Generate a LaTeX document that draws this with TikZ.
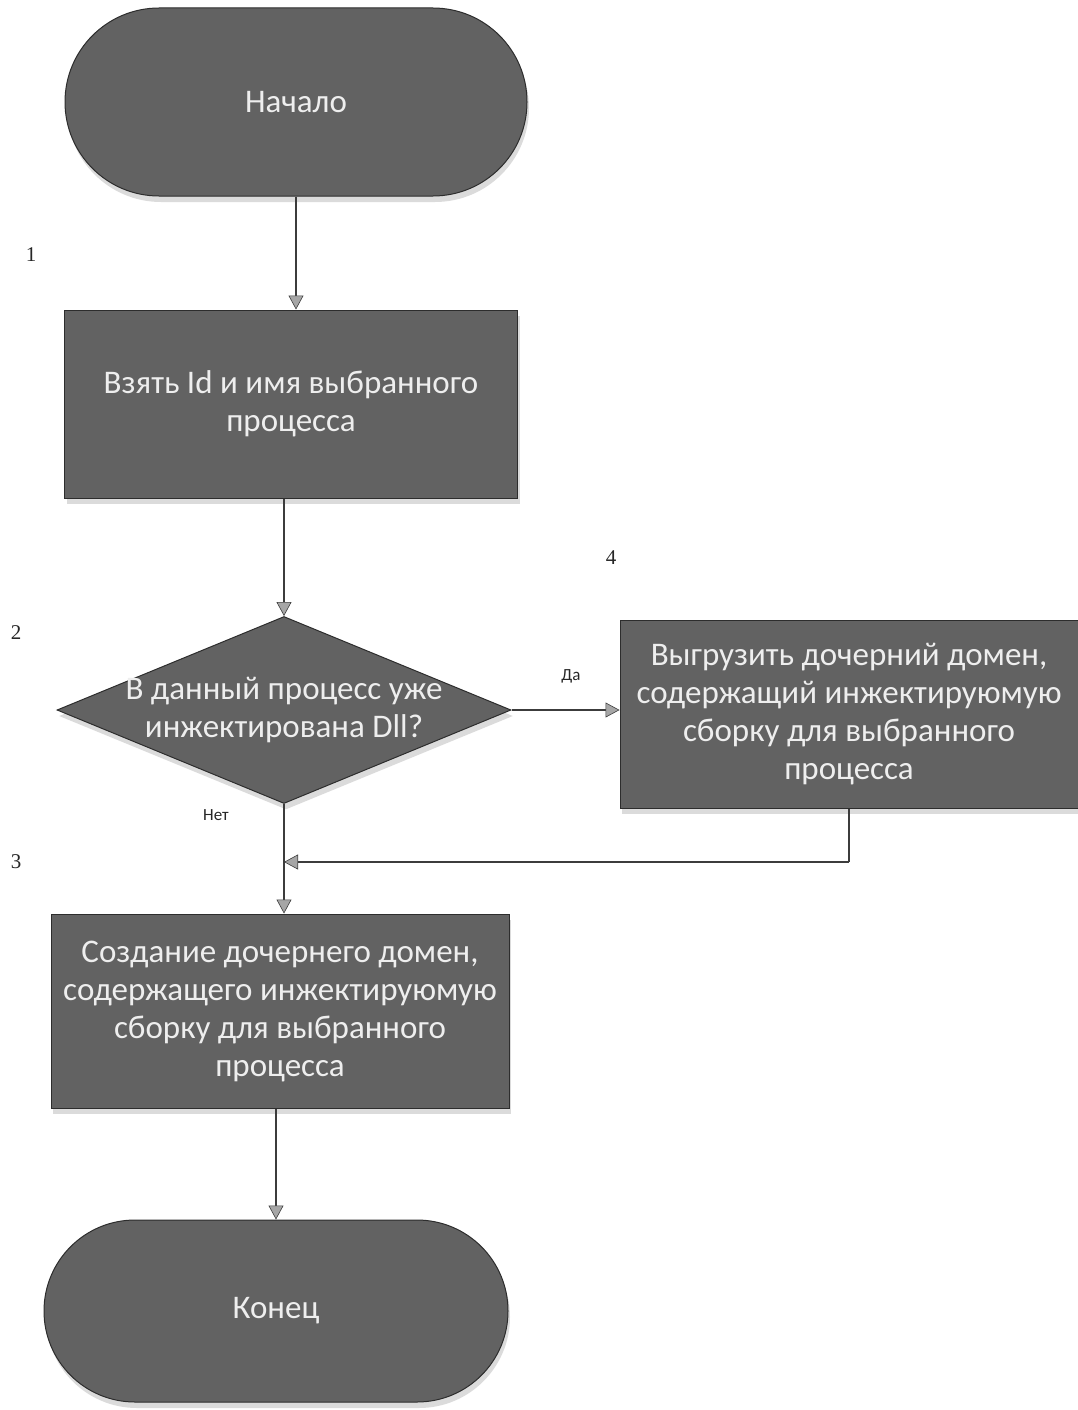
\documentclass[tikz,border=0pt]{standalone}
\usepackage{fontspec}
\setmainfont{Carlito}
\newfontfamily\numfont{Liberation Serif}
\usetikzlibrary{shapes.misc,shapes.geometric,arrows.meta,shadows}
\definecolor{boxfill}{RGB}{98,98,98}
\definecolor{boxline}{RGB}{45,45,45}
\definecolor{boxtext}{RGB}{238,238,238}
\definecolor{wire}{RGB}{60,60,60}
\begin{document}
\begin{tikzpicture}[x=1pt,y=-1pt,
  base/.style={fill=boxfill,draw=boxline,line width=1pt,text=boxtext,
    font=\fontsize{33}{38}\selectfont,align=center,inner sep=0pt,
    drop shadow={shadow xshift=2pt,shadow yshift=-6pt,fill=gray!35,opacity=0.8}},
  term/.style={base,rounded rectangle,minimum width=462pt,minimum height=188pt},
  proc/.style={base,rectangle},
  decide/.style={base,diamond,minimum width=454pt,minimum height=187pt},
  inbox/.style={text=boxtext,font=\fontsize{33}{38}\selectfont,align=center},
  flow/.style={draw=wire,line width=1.6pt,
    -{Triangle[width=15pt,length=14pt,fill=gray!70,color=wire,line width=0.6pt]}},
  plain/.style={draw=wire,line width=1.6pt},
  tag/.style={font=\fontsize{17}{20}\selectfont,text=black!85},
  num/.style={font=\numfont\fontsize{21}{24}\selectfont,text=black!85}]
\useasboundingbox (0,0) rectangle (1078,1410);

% terminators, steps and decision
\node[term] (start) at (296,102) {Начало};
\node[proc,minimum width=453pt,minimum height=188pt] (take) at (291,404)
  {Взять Id и имя выбранного\\процесса};
\node[decide] (check) at (284,710) {};
\node[inbox] (checktext) at (check.center) {В данный процесс уже\\инжектирована Dll?};
\node[proc,minimum width=458pt,minimum height=188pt] (unload) at (849,714)
  {Выгрузить дочерний домен,\\содержащий инжектируюмую\\сборку для выбранного\\процесса};
\node[proc,minimum width=458pt,minimum height=194pt] (create) at (280,1011)
  {Создание дочернего домен,\\содержащего инжектируюмую\\сборку для выбранного\\процесса};
\node[term,minimum width=464pt,minimum height=182pt] (finish) at (276,1311) {Конец};

% step numbers
\node[num] (n1) at (31,255) {1};
\node[num] (n2) at (16,633) {2};
\node[num] (n3) at (16,862) {3};
\node[num] (n4) at (611,558) {4};

% connectors
\draw[flow] (start.south) -- (start.south |- take.north);
\draw[flow] (take.south -| check.north) -- (check.north);
\draw[flow] (check.east) -- (check.east -| unload.west);
\node[tag] (yes) at (571,676) {Да};
\coordinate (merge) at (check.south |- 0,862);
\draw[plain] (unload.south) -- (unload.south |- merge);
\draw[flow] (unload.south |- merge) -- (merge);
\draw[flow] (check.south) -- (check.south |- create.north);
\node[tag] (no) at (216,815) {Нет};
\draw[flow] (create.south -| finish.north) -- (finish.north);
\end{tikzpicture}
\end{document}
